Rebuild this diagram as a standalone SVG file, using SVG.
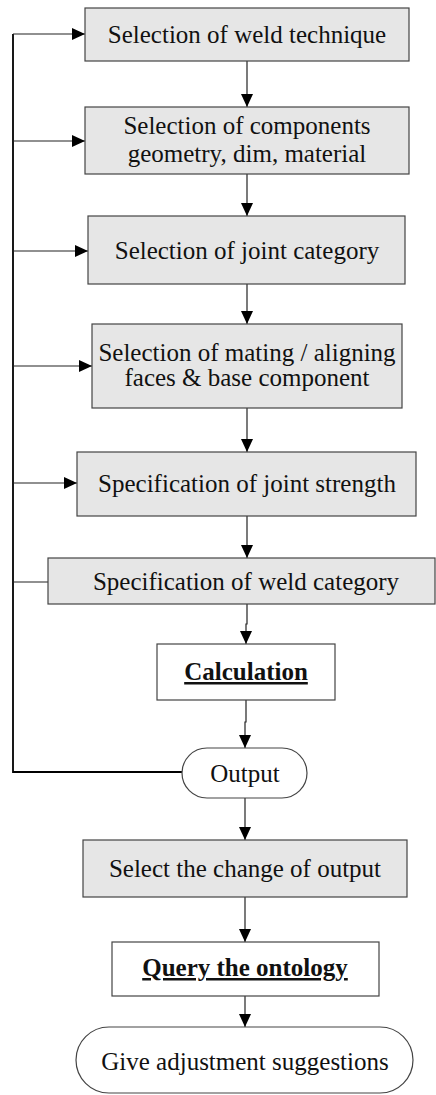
<svg xmlns="http://www.w3.org/2000/svg" width="436" height="1095" viewBox="0 0 436 1095">
  <defs>
    <marker id="arrow" viewBox="0 0 13 12" refX="13" refY="6" markerWidth="13" markerHeight="12" markerUnits="userSpaceOnUse" orient="auto">
      <path d="M0,0 L13,6 L0,12 Z" fill="#000"/>
    </marker>
  </defs>
  <style>
    .box { fill: #e6e6e6; stroke: #444; stroke-width: 1.2; }
    .plain { fill: #fff; stroke: #444; stroke-width: 1.2; }
    .lbl { font-family: "Liberation Serif", "Times New Roman", serif; font-size: 25px; fill: #111; text-anchor: middle; }
    .bold { font-weight: bold; text-decoration: underline; }
    .conn { fill: none; stroke: #222; stroke-width: 1.2; }
    .loop { fill: none; stroke: #000; stroke-width: 1.8; }
  </style>

  <!-- connectors -->
  <g id="connectors">
    <path class="conn" d="M247,61 V107" marker-end="url(#arrow)"/>
    <path class="conn" d="M247,174 V216" marker-end="url(#arrow)"/>
    <path class="conn" d="M247,284 V324" marker-end="url(#arrow)"/>
    <path class="conn" d="M247,408 V452" marker-end="url(#arrow)"/>
    <path class="conn" d="M247,516 V558" marker-end="url(#arrow)"/>
    <path class="conn" d="M247,604 V624 H246 V644" marker-end="url(#arrow)"/>
    <path class="conn" d="M246,700 V722 H245 V748" marker-end="url(#arrow)"/>
    <path class="conn" d="M245,798 V840" marker-end="url(#arrow)"/>
    <path class="conn" d="M245,897 V942" marker-end="url(#arrow)"/>
    <path class="conn" d="M245,996 V1027" marker-end="url(#arrow)"/>
    <!-- feedback loop from Output back to each selection step -->
    <path class="loop" d="M182,772 H13 V34"/>
    <path class="conn" d="M13,34 H85" marker-end="url(#arrow)"/>
    <path class="conn" d="M13,141 H85" marker-end="url(#arrow)"/>
    <path class="conn" d="M13,251 H88" marker-end="url(#arrow)"/>
    <path class="conn" d="M13,366 H92" marker-end="url(#arrow)"/>
    <path class="conn" d="M13,483 H77" marker-end="url(#arrow)"/>
    <path class="conn" d="M13,582 H48"/>
  </g>

  <g id="weld-technique">
    <rect class="box" x="85" y="8" width="324" height="53"/>
    <text class="lbl" x="247" y="43">Selection of weld technique</text>
  </g>

  <g id="components">
    <rect class="box" x="85" y="107" width="324" height="67"/>
    <text class="lbl" x="247" y="134">Selection of components</text>
    <text class="lbl" x="247" y="162">geometry, dim, material</text>
  </g>

  <g id="joint-category">
    <rect class="box" x="88" y="216" width="317" height="68"/>
    <text class="lbl" x="247" y="259">Selection of joint category</text>
  </g>

  <g id="mating-faces">
    <rect class="box" x="92" y="324" width="310" height="84"/>
    <text class="lbl" x="247" y="361">Selection of mating / aligning</text>
    <text class="lbl" x="247" y="386">faces &amp; base component</text>
  </g>

  <g id="joint-strength">
    <rect class="box" x="77" y="452" width="339" height="64"/>
    <text class="lbl" x="247" y="492">Specification of joint strength</text>
  </g>

  <g id="weld-category">
    <rect class="box" x="48" y="558" width="387" height="46"/>
    <text class="lbl" x="246" y="590">Specification of weld category</text>
  </g>

  <g id="calculation">
    <rect class="plain" x="157" y="644" width="178" height="56"/>
    <text class="lbl bold" x="246" y="680">Calculation</text>
  </g>

  <g id="output">
    <rect class="plain" x="182" y="748" width="125" height="50" rx="25" ry="25"/>
    <text class="lbl" x="245" y="782">Output</text>
  </g>

  <g id="change-output">
    <rect class="box" x="83" y="840" width="324" height="57"/>
    <text class="lbl" x="245" y="877">Select the change of output</text>
  </g>

  <g id="query">
    <rect class="plain" x="112" y="942" width="267" height="54"/>
    <text class="lbl bold" x="245" y="976">Query the ontology</text>
  </g>

  <g id="suggestions">
    <rect class="plain" x="76" y="1027" width="337" height="66" rx="33" ry="33"/>
    <text class="lbl" x="245" y="1070">Give adjustment suggestions</text>
  </g>
</svg>
